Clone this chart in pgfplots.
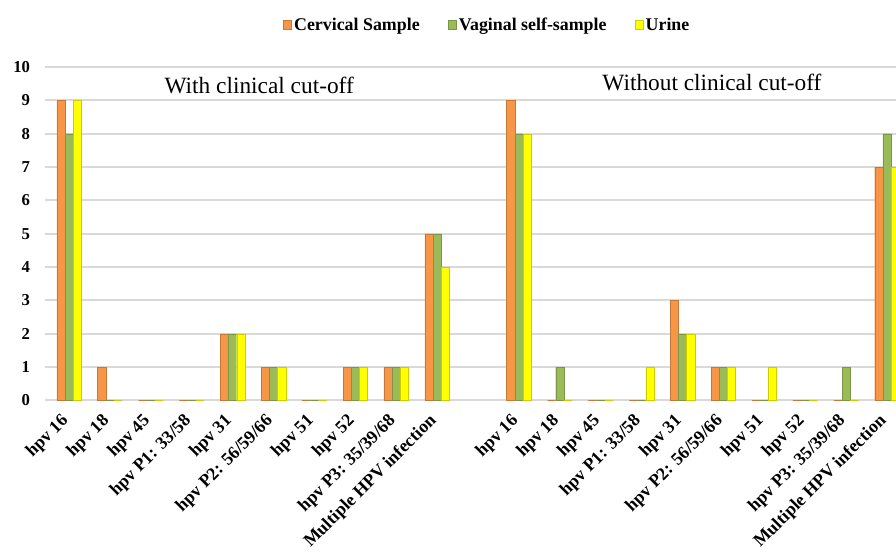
\documentclass[border=0pt]{standalone}
\usepackage{fontspec}
\setmainfont{Liberation Serif}
\usepackage{pgfplots}
\usepackage{pgfplotstable}
\pgfplotsset{compat=1.18}

\definecolor{cerv}{HTML}{F79646}
\definecolor{vag}{HTML}{9BBB59}
\definecolor{uri}{HTML}{FFFF00}
\definecolor{gridc}{HTML}{D9D9D9}

% positions 0-9: with clinical cut-off, 11-20: without
\pgfplotstableread{
x  cerv vag uri
0  9 8 9
1  1 0 0
2  0 0 0
3  0 0 0
4  2 2 2
5  1 1 1
6  0 0 0
7  1 1 1
8  1 1 1
9  5 5 4
11 9 8 8
12 0 1 0
13 0 0 0
14 0 0 1
15 3 2 2
16 1 1 1
17 0 0 1
18 0 0 0
19 0 1 0
20 7 8 7
}\hpvdata

\begin{document}
\begin{tikzpicture}
\begin{axis}[
    scale only axis,
    width=638pt, height=250pt,
    ybar, bar width=0.2,
    xmin=-0.587, xmax=20.22,
    ymin=0, ymax=10,
    ytick={0,...,10},
    xtick=data,
    xticklabels={hpv 16, hpv 18, hpv 45, {hpv P1: 33/58}, hpv 31, {hpv P2: 56/59/66}, hpv 51, hpv 52, {hpv P3: 35/39/68}, Multiple HPV infection,
                 hpv 16, hpv 18, hpv 45, {hpv P1: 33/58}, hpv 31, {hpv P2: 56/59/66}, hpv 51, hpv 52, {hpv P3: 35/39/68}, Multiple HPV infection},
    xticklabel style={font=\fontsize{13.4}{14}\selectfont\bfseries, rotate=45, anchor=east},
    xticklabel shift=11pt,
    yticklabel style={font=\fontsize{12.5}{13}\selectfont\bfseries, xshift=-7.75pt},
    /pgf/number format/assume math mode=true,
    major tick length=0pt,
    axis line style={draw=none},
    ymajorgrids,
    grid style={gridc, line width=1.5pt},
    clip=true,
    legend style={at={(0.52,1.126)}, anchor=center, draw=none,
        font=\fontsize{13.4}{14}\selectfont\bfseries, legend columns=3,
        /tikz/every even column/.append style={column sep=19pt}},
    legend image code/.code={\fill[#1] (0pt,-3.5pt) rectangle (6pt,3.5pt);},
]
\addplot[fill=cerv, draw=cerv!80!black, line width=0.3pt, bar shift=-0.2] table[x=x, y=cerv] {\hpvdata};
\addplot[fill=vag, draw=vag!80!black, line width=0.3pt, bar shift=0] table[x=x, y=vag] {\hpvdata};
\addplot[fill=uri, draw=uri!80!black, line width=0.3pt, bar shift=0.2] table[x=x, y=uri] {\hpvdata};
\legend{Cervical Sample, Vaginal self-sample, Urine}
\node[font=\fontsize{17.5}{18}\selectfont] at (axis cs:4.65,9.46) {With clinical cut-off};
\node[font=\fontsize{17.5}{18}\selectfont] at (axis cs:15.72,9.55) {Without clinical cut-off};
\end{axis}
\pgfresetboundingbox
\path (current axis.south west) ++(-33.75pt,-115.5pt) coordinate (bbl);
\path (current axis.north east) ++(0pt,50.25pt) coordinate (bbr);
\useasboundingbox (bbl) rectangle (bbr);
\end{tikzpicture}
\end{document}
